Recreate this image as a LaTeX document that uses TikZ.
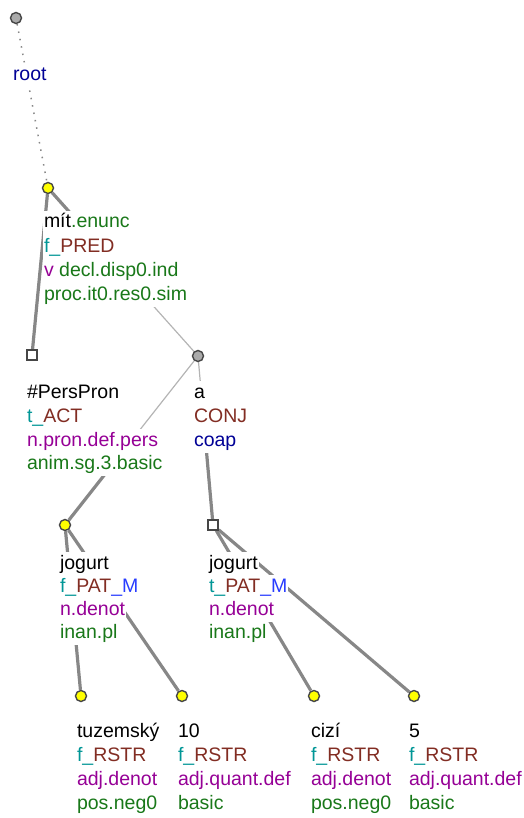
\documentclass[tikz,border=0pt]{standalone}
\usepackage{fontspec}
\setmainfont{Liberation Sans}
\usepackage{xcolor}
\definecolor{treeyellow}{RGB}{255, 255, 0}
\definecolor{treegray}{RGB}{170, 170, 170}
\definecolor{nodeline}{RGB}{70, 70, 70}
\definecolor{edgegray}{RGB}{135, 135, 135}
\definecolor{edgelight}{RGB}{180, 180, 180}
\definecolor{functeal}{RGB}{0, 150, 150}
\definecolor{funcbrown}{RGB}{130, 45, 35}
\definecolor{membblue}{RGB}{40, 60, 255}
\definecolor{sempurple}{RGB}{150, 0, 150}
\definecolor{gramgreen}{RGB}{25, 120, 25}
\definecolor{rootblue}{RGB}{0, 0, 150}
\usetikzlibrary{calc,positioning,backgrounds}

\begin{document}
\begin{tikzpicture}[x=1pt, y=-1pt,
    tnode/.style={circle, draw=nodeline, line width=1.4pt, minimum size=11pt, inner sep=0pt},
    tsquare/.style={rectangle, draw=nodeline, fill=white, line width=1.4pt, minimum size=10pt, inner sep=0pt},
    lbl/.style={anchor=base west, fill=white, inner xsep=0.8pt, inner ysep=0pt,
        text height=17pt, text depth=7pt, font=\fontsize{19.5}{23}\selectfont},
    heavy/.style={edgegray, line width=3.2pt},
    light/.style={edgelight, line width=1.2pt}]
    \useasboundingbox (0, 0) rectangle (523, 818);

    % Tree nodes
    \node[tnode, fill=treegray] (root) at (16, 18) {};
    \node[tnode, fill=treeyellow] (mit) at (48, 188) {};
    \node[tsquare] (perspron) at (32, 355) {};
    \node[tnode, fill=treegray] (conj) at (198, 356) {};
    \node[tnode, fill=treeyellow] (jogurtA) at (65, 525) {};
    \node[tsquare] (jogurtB) at (213, 525) {};
    \node[tnode, fill=treeyellow] (tuzemsky) at (81, 696) {};
    \node[tnode, fill=treeyellow] (deset) at (182, 696) {};
    \node[tnode, fill=treeyellow] (cizi) at (314, 696) {};
    \node[tnode, fill=treeyellow] (pet) at (414, 696) {};

    % Labels
    \node[lbl] (rootl) at (12, 81) {\textcolor{rootblue}{root}};

    \node[lbl] (mit1) at (43, 228) {mít\textcolor{gramgreen}{.enunc}};
    \node[lbl] (mit2) at (43, 252) {\textcolor{functeal}{f\_}\textcolor{funcbrown}{PRED}};
    \node[lbl] (mit3) at (43, 276) {\textcolor{sempurple}{v} \textcolor{gramgreen}{decl.disp0.ind}};
    \node[lbl] (mit4) at (43, 300) {\textcolor{gramgreen}{proc.it0.res0.sim}};

    \node[lbl] (pers1) at (26, 398) {\#PersPron};
    \node[lbl] (pers2) at (26, 422) {\textcolor{functeal}{t\_}\textcolor{funcbrown}{ACT}};
    \node[lbl] (pers3) at (26, 446) {\textcolor{sempurple}{n.pron.def.pers}};
    \node[lbl] (pers4) at (26, 469) {\textcolor{gramgreen}{anim.sg.3.basic}};

    \node[lbl] (conj1) at (193, 398) {a};
    \node[lbl] (conj2) at (193, 422) {\textcolor{funcbrown}{CONJ}};
    \node[lbl] (conj3) at (193, 446) {\textcolor{rootblue}{coap}};

    \node[lbl] (jogA1) at (59, 569) {jogurt};
    \node[lbl] (jogA2) at (59, 592) {\textcolor{functeal}{f\_}\textcolor{funcbrown}{PAT}\textcolor{membblue}{\_M}};
    \node[lbl] (jogA3) at (59, 615) {\textcolor{sempurple}{n.denot}};
    \node[lbl] (jogA4) at (59, 638) {\textcolor{gramgreen}{inan.pl}};

    \node[lbl] (jogB1) at (208, 569) {jogurt};
    \node[lbl] (jogB2) at (208, 592) {\textcolor{functeal}{t\_}\textcolor{funcbrown}{PAT}\textcolor{membblue}{\_M}};
    \node[lbl] (jogB3) at (208, 615) {\textcolor{sempurple}{n.denot}};
    \node[lbl] (jogB4) at (208, 638) {\textcolor{gramgreen}{inan.pl}};

    \node[lbl] (tuz1) at (76, 737) {tuzemský};
    \node[lbl] (tuz2) at (76, 761) {\textcolor{functeal}{f\_}\textcolor{funcbrown}{RSTR}};
    \node[lbl] (tuz3) at (76, 785) {\textcolor{sempurple}{adj.denot}};
    \node[lbl] (tuz4) at (76, 809) {\textcolor{gramgreen}{pos.neg0}};

    \node[lbl] (des1) at (177, 737) {10};
    \node[lbl] (des2) at (177, 761) {\textcolor{functeal}{f\_}\textcolor{funcbrown}{RSTR}};
    \node[lbl] (des3) at (177, 785) {\textcolor{sempurple}{adj.quant.def}};
    \node[lbl] (des4) at (177, 809) {\textcolor{gramgreen}{basic}};

    \node[lbl] (ciz1) at (310, 737) {cizí};
    \node[lbl] (ciz2) at (310, 761) {\textcolor{functeal}{f\_}\textcolor{funcbrown}{RSTR}};
    \node[lbl] (ciz3) at (310, 785) {\textcolor{sempurple}{adj.denot}};
    \node[lbl] (ciz4) at (310, 809) {\textcolor{gramgreen}{pos.neg0}};

    \node[lbl] (pet1) at (408, 737) {5};
    \node[lbl] (pet2) at (408, 761) {\textcolor{functeal}{f\_}\textcolor{funcbrown}{RSTR}};
    \node[lbl] (pet3) at (408, 785) {\textcolor{sempurple}{adj.quant.def}};
    \node[lbl] (pet4) at (408, 809) {\textcolor{gramgreen}{basic}};

    % Edges, under the labels
    \begin{scope}[on background layer]
        \draw[edgegray, line width=1.5pt, dash pattern=on 1.5pt off 6pt] (root) -- (mit);
        \draw[heavy] (mit) -- (perspron);
        \coordinate (midA) at ($(mit)!0.5!(conj)$);
        \draw[heavy] (mit) -- (midA);
        \draw[light] (midA) -- (conj);
        \coordinate (midB) at ($(conj)!0.5!(jogurtA)$);
        \draw[light] (conj) -- (midB);
        \draw[heavy] (midB) -- (jogurtA);
        \coordinate (midC) at ($(conj)!0.5!(jogurtB)$);
        \draw[light] (conj) -- (midC);
        \draw[heavy] (midC) -- (jogurtB);
        \draw[heavy] (jogurtA) -- (tuzemsky);
        \draw[heavy] (jogurtA) -- (deset);
        \draw[heavy] (jogurtB) -- (cizi);
        \draw[heavy] (jogurtB) -- (pet);
    \end{scope}
\end{tikzpicture}
\end{document}
